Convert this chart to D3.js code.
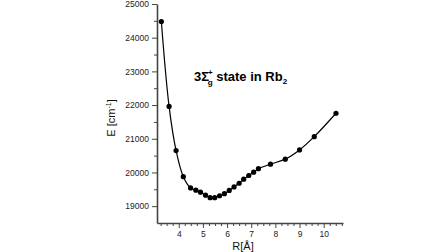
<!doctype html>
<html lang="en">
<head>
  <meta charset="UTF-8">
  <script src="https://cdn.jsdelivr.net/npm/d3@7"></script>
  <title>3Sigma state in Rb2</title>
  <style>
    body{ margin:0; background:#fff; }
    .chart svg{ display:block; background:#fff; font-family:"Liberation Sans", Arial, sans-serif; }
    .axis path, .axis line{ stroke:#444; }
    .axis text{ fill:#222; font-size:8.5px; }
  </style>
</head>
<body>
  <div class="chart"></div>
  <script>
    // R in angstrom, E in cm^-1
    const rVals = [3.28, 3.60, 3.89, 4.19, 4.49, 4.71, 4.90, 5.11, 5.30, 5.49, 5.69, 5.89,
                   6.09, 6.29, 6.50, 6.69, 6.90, 7.10, 7.30, 7.80, 8.41, 9.00, 9.61, 10.51];
    const eVals = [24480, 21960, 20650, 19875, 19540, 19475, 19415, 19326, 19252, 19252, 19309, 19371,
                   19466, 19570, 19680, 19800, 19910, 20009, 20113, 20246, 20395, 20668, 21062, 21757];
    const xTicks = [4, 5, 6, 7, 8, 9, 10];
    const yTicks = [19000, 20000, 21000, 22000, 23000, 24000, 25000];

    const W = 448, H = 252;
    const svg = d3.select('.chart').append('svg').attr('width', W).attr('height', H);

    const x = d3.scaleLinear().domain([3.1, 10.8]).range([157, 343]);
    const y = d3.scaleLinear().domain([18500, 25000]).range([223, 4]);

    // minor ticks
    const xMinor = d3.range(3.25, 10.8, 0.25).filter(v => Math.abs(v - Math.round(v)) > 0.01);
    const yMinor = d3.range(19500, 25000, 1000);
    svg.append('g').attr('class', 'axis').attr('transform', 'translate(0,223)')
      .call(d3.axisBottom(x).tickValues(xMinor).tickSize(3).tickFormat(''))
      .select('.domain').remove();
    svg.append('g').attr('class', 'axis').attr('transform', 'translate(157,0)')
      .call(d3.axisLeft(y).tickValues(yMinor).tickSize(3).tickFormat(''))
      .select('.domain').remove();

    const gx = svg.append('g').attr('class', 'axis').attr('transform', 'translate(0,223)')
      .call(d3.axisBottom(x).tickValues(xTicks).tickSize(5).tickSizeOuter(0).tickPadding(3).tickFormat(d3.format('d')));
    const gy = svg.append('g').attr('class', 'axis').attr('transform', 'translate(157,0)')
      .call(d3.axisLeft(y).tickValues(yTicks).tickSize(5).tickSizeOuter(0).tickPadding(3).tickFormat(d3.format('d')));
    gx.select('.domain').attr('stroke-width', 1.6);
    gy.select('.domain').attr('stroke-width', 1.6);

    const data = rVals.map((r, i) => ({r: r, e: eVals[i]}));
    const line = d3.line().x(d => x(d.r)).y(d => y(d.e)).curve(d3.curveCatmullRom.alpha(0.5));
    svg.append('path').attr('d', line(data)).attr('fill', 'none').attr('stroke', '#000').attr('stroke-width', 1.2);
    svg.selectAll('circle.pt').data(data).enter().append('circle').attr('class', 'pt')
      .attr('cx', d => x(d.r)).attr('cy', d => y(d.e)).attr('r', 2.6).attr('fill', '#000');

    // axis titles
    const xl = svg.append('text').attr('x', 243).attr('y', 250).attr('text-anchor', 'middle')
      .attr('font-size', 11).attr('fill', '#111').text('R[Å]');
    const yl = svg.append('text').attr('transform', 'translate(115,118) rotate(-90)')
      .attr('text-anchor', 'middle').attr('font-size', 11).attr('fill', '#111');
    yl.append('tspan').text('E [cm');
    yl.append('tspan').attr('font-size', 7).attr('dy', -4).text('-1');
    yl.append('tspan').attr('dy', 4).text(']');

    // chart label
    const t = svg.append('text').attr('x', 194).attr('y', 81).attr('font-size', 13)
      .attr('font-weight', 'bold').attr('fill', '#000');
    t.append('tspan').text('3Σ');
    t.append('tspan').attr('font-size', 8).attr('dx', -1).attr('dy', -6).text('+');
    t.append('tspan').attr('font-size', 8).attr('dx', -5).attr('dy', 10).text('g');
    t.append('tspan').attr('dy', -4).text(' state in Rb');
    t.append('tspan').attr('font-size', 8).attr('dy', 3).text('2');
  </script>
</body>
</html>
